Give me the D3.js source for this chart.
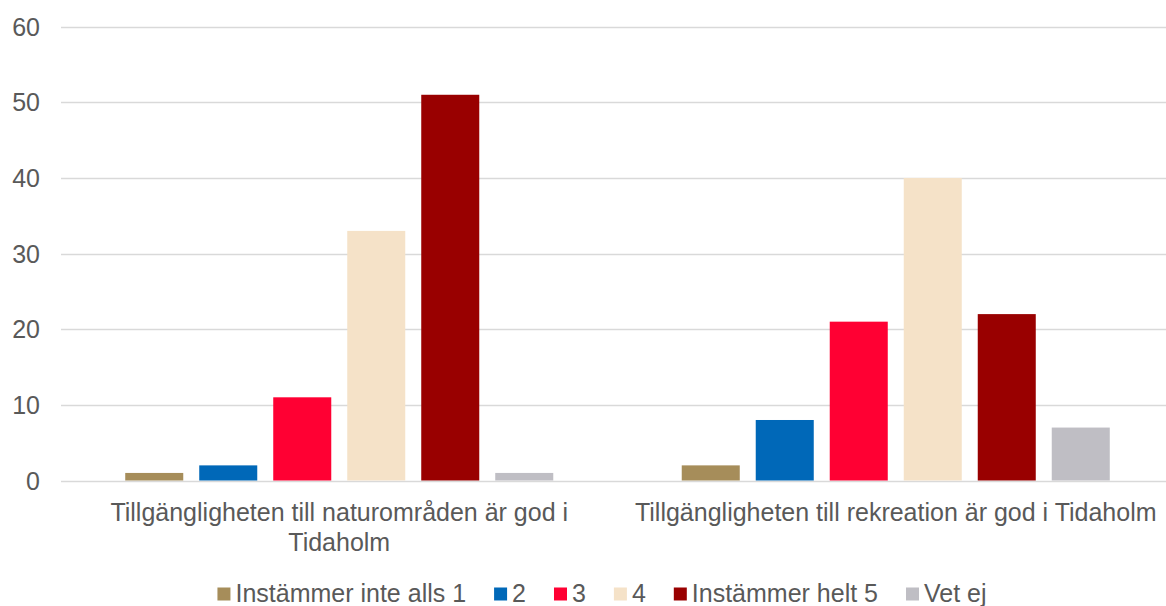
<!DOCTYPE html>
<html>
<head>
<meta charset="utf-8">
<script src="https://cdn.jsdelivr.net/npm/d3@7"></script>
<style>
  body { margin: 0; background: #fff; }
  svg text { font-family: "Liberation Sans", Arial, sans-serif; fill: #595959; }
</style>
</head>
<body>
<svg id="chart" width="1166" height="606"></svg>
<script>
// data
const categories = [
  "Tillgängligheten till naturområden är god i Tidaholm",
  "Tillgängligheten till rekreation är god i Tidaholm"
];
const categoryLines = [
  ["Tillgängligheten till naturområden är god i", "Tidaholm"],
  ["Tillgängligheten till rekreation är god i Tidaholm"]
];
const seriesNames = ["Instämmer inte alls 1", "2", "3", "4", "Instämmer helt 5", "Vet ej"];
const seriesColors = ["#A68D5A", "#0068B8", "#FF0033", "#F5E2C8", "#990000", "#BFBEC4"];
const naturValues = [1, 2, 11, 33, 51, 1];
const rekreationValues = [2, 8, 21, 40, 22, 7];
const yTicks = [0, 10, 20, 30, 40, 50, 60];

const values = [naturValues, rekreationValues];

const svg = d3.select('#chart');
const fontSize = 25;

// plot frame
const plotLeft = 61, plotTop = 26.7, plotBottom = 480.5;
const bandW = 556.5;

const yscale = d3.scaleLinear().domain([0, 60]).range([plotBottom, plotTop]);
const xscale = d3.scaleBand()
  .domain(categories)
  .range([plotLeft, plotLeft + bandW * 2])
  .padding(0);
const xinner = d3.scaleBand()
  .domain(seriesNames)
  .range([0, bandW])
  .paddingInner(0.216)
  .paddingOuter(0.868);

// grid lines
svg.append('g')
  .attr('class', 'grid')
  .selectAll('line')
  .data(yTicks)
  .join('line')
    .attr('x1', plotLeft)
    .attr('x2', 1166)
    .attr('y1', d => Math.round(yscale(d)) + 0.5)
    .attr('y2', d => Math.round(yscale(d)) + 0.5)
    .attr('stroke', '#D9D9D9')
    .attr('stroke-width', 1.5);

// y axis labels
svg.append('g')
  .selectAll('text')
  .data(yTicks)
  .join('text')
    .attr('x', 40)
    .attr('y', d => yscale(d))
    .attr('dy', '0.36em')
    .attr('text-anchor', 'end')
    .attr('font-size', fontSize)
    .text(d => d);

// bars
const groups = svg.append('g')
  .selectAll('g')
  .data(categories)
  .join('g')
    .attr('transform', d => `translate(${xscale(d)},0)`);

groups.selectAll('rect')
  .data((d, i) => values[i].map((v, j) => ({name: seriesNames[j], value: v, color: seriesColors[j]})))
  .join('rect')
    .attr('x', d => xinner(d.name))
    .attr('width', xinner.bandwidth())
    .attr('y', d => yscale(d.value))
    .attr('height', d => yscale(0) - yscale(d.value))
    .attr('fill', d => d.color);

// category labels
groups.append('text')
  .attr('text-anchor', 'middle')
  .attr('font-size', fontSize)
  .attr('x', bandW / 2)
  .attr('y', 521)
  .selectAll('tspan')
  .data((d, i) => categoryLines[i])
  .join('tspan')
    .attr('x', bandW / 2)
    .attr('dy', (d, i) => i === 0 ? 0 : 29.5)
    .text(d => d);

// legend
const legend = svg.append('g').attr('class', 'legend');
const sq = 13, gap = 28;
let lx = 0;
seriesNames.forEach((name, i) => {
  const item = legend.append('g').attr('transform', `translate(${lx},0)`);
  item.append('rect')
    .attr('x', 0).attr('y', -sq / 2)
    .attr('width', sq).attr('height', sq)
    .attr('fill', seriesColors[i]);
  const t = item.append('text')
    .attr('x', sq + 5)
    .attr('y', 7.5)
    .attr('font-size', fontSize)
    .text(name);
  lx += sq + 5 + t.node().getComputedTextLength() + gap;
});
const lw = lx - gap;
legend.attr('transform', `translate(${(1166 - lw) / 2 + 19},594)`);
</script>
</body>
</html>
